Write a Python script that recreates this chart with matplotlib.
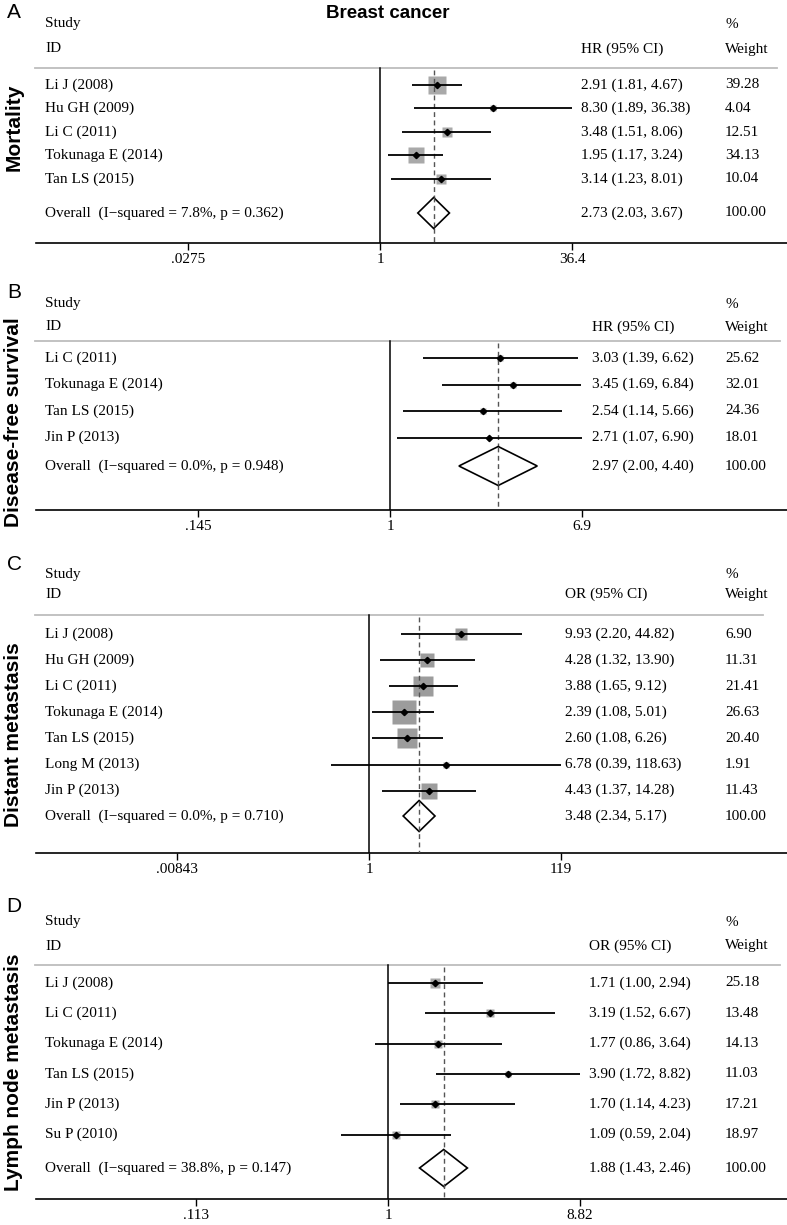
import numpy as np
import matplotlib
matplotlib.use("Agg")
import matplotlib.pyplot as plt

# ---- data -------------------------------------------------------------
studies_a = ["Li J (2008)", "Hu GH (2009)", "Li C (2011)", "Tokunaga E (2014)", "Tan LS (2015)"]
est_a = [2.91, 8.30, 3.48, 1.95, 3.14]
lo_a = [1.81, 1.89, 1.51, 1.17, 1.23]
hi_a = [4.67, 36.38, 8.06, 3.24, 8.01]
w_a = [39.28, 4.04, 12.51, 34.13, 10.04]
overall_a = [2.73, 2.03, 3.67]
het_a = "Overall  (I\u2212squared = 7.8%, p = 0.362)"
ticks_a = [0.0275, 1, 36.4]
ticklab_a = [".0275", "1", "36.4"]

studies_b = ["Li C (2011)", "Tokunaga E (2014)", "Tan LS (2015)", "Jin P (2013)"]
est_b = [3.03, 3.45, 2.54, 2.71]
lo_b = [1.39, 1.69, 1.14, 1.07]
hi_b = [6.62, 6.84, 5.66, 6.90]
w_b = [25.62, 32.01, 24.36, 18.01]
overall_b = [2.97, 2.00, 4.40]
het_b = "Overall  (I\u2212squared = 0.0%, p = 0.948)"
ticks_b = [0.145, 1, 6.9]
ticklab_b = [".145", "1", "6.9"]

studies_c = ["Li J (2008)", "Hu GH (2009)", "Li C (2011)", "Tokunaga E (2014)",
             "Tan LS (2015)", "Long M (2013)", "Jin P (2013)"]
est_c = [9.93, 4.28, 3.88, 2.39, 2.60, 6.78, 4.43]
lo_c = [2.20, 1.32, 1.65, 1.08, 1.08, 0.39, 1.37]
hi_c = [44.82, 13.90, 9.12, 5.01, 6.26, 118.63, 14.28]
w_c = [6.90, 11.31, 21.41, 26.63, 20.40, 1.91, 11.43]
overall_c = [3.48, 2.34, 5.17]
het_c = "Overall  (I\u2212squared = 0.0%, p = 0.710)"
ticks_c = [0.00843, 1, 119]
ticklab_c = [".00843", "1", "119"]

studies_d = ["Li J (2008)", "Li C (2011)", "Tokunaga E (2014)", "Tan LS (2015)",
             "Jin P (2013)", "Su P (2010)"]
est_d = [1.71, 3.19, 1.77, 3.90, 1.70, 1.09]
lo_d = [1.00, 1.52, 0.86, 1.72, 1.14, 0.59]
hi_d = [2.94, 6.67, 3.64, 8.82, 4.23, 2.04]
w_d = [25.18, 13.48, 14.13, 11.03, 17.21, 18.97]
overall_d = [1.88, 1.43, 2.46]
het_d = "Overall  (I\u2212squared = 38.8%, p = 0.147)"
ticks_d = [0.113, 1, 8.82]
ticklab_d = [".113", "1", "8.82"]

# ---- layout (pixel positions from top-left) --------------------------
W, H = 787, 1225
SERIF = "Liberation Serif"
SANS = "Liberation Sans"

panels = [
    dict(letter="A", name="Mortality", eff="HR", studies=studies_a, est=est_a, lo=lo_a, hi=hi_a,
         w=w_a, overall=overall_a, het=het_a, ticks=ticks_a, ticklab=ticklab_a,
         one=380, span=192, k=2.87, col_ci=581, col_w=725, line_end=777,
         letter_y=12, study_y=24, id_y=49, line_y=68, row0=85, step=23.5, ov_y=213,
         dh=31, axis_y=243, label_y=127, sq="#a9a9a9"),
    dict(letter="B", name="Disease-free survival", eff="HR", studies=studies_b, est=est_b, lo=lo_b,
         hi=hi_b, w=w_b, overall=overall_b, het=het_b, ticks=ticks_b, ticklab=ticklab_b,
         one=390, span=192, k=1.1, col_ci=592, col_w=725, line_end=780,
         letter_y=292, study_y=304, id_y=327, line_y=341, row0=358, step=26.5, ov_y=466,
         dh=39, axis_y=510, label_y=422, sq="#a9a9a9"),
    dict(letter="C", name="Distant metastasis", eff="OR", studies=studies_c, est=est_c, lo=lo_c,
         hi=hi_c, w=w_c, overall=overall_c, het=het_c, ticks=ticks_c, ticklab=ticklab_c,
         one=369, span=192, k=4.46, col_ci=565, col_w=725, line_end=763,
         letter_y=564, study_y=574, id_y=594, line_y=615, row0=634, step=26.1, ov_y=816,
         dh=31, axis_y=853, label_y=735, sq="#9c9c9c"),
    dict(letter="D", name="Lymph node metastasis", eff="OR", studies=studies_d, est=est_d, lo=lo_d,
         hi=hi_d, w=w_d, overall=overall_d, het=het_d, ticks=ticks_d, ticklab=ticklab_d,
         one=388, span=192, k=2.0, col_ci=589, col_w=725, line_end=780,
         letter_y=906, study_y=922, id_y=946, line_y=965, row0=983, step=30.3, ov_y=1168,
         dh=37, axis_y=1199, label_y=1072, sq="#a9a9a9"),
]

X0 = 36  # left end of axis line

fig = plt.figure(figsize=(W / 100, H / 100), dpi=100)
fig.patch.set_facecolor("white")

for p in panels:
    scale = p["span"] / np.log(p["ticks"][2])  # px per ln unit

    def hx(px, p=p, scale=scale):
        return np.exp((px - p["one"]) / scale)

    top = p["letter_y"] - 12
    ax = fig.add_axes([X0 / W, 1 - p["axis_y"] / H, 1 - X0 / W, (p["axis_y"] - top) / H])
    ax.set_facecolor("none")
    ax.set_xscale("log")
    ax.set_xlim(hx(X0), hx(W))
    ax.set_ylim(p["axis_y"], top)
    for s in ["top", "left", "right"]:
        ax.spines[s].set_visible(False)
    ax.spines["bottom"].set_linewidth(1.2)
    ax.set_yticks([])
    ax.set_xticks(p["ticks"])
    ax.set_xticklabels(p["ticklab"], fontfamily=SERIF, fontsize=11)
    ax.xaxis.set_minor_locator(matplotlib.ticker.NullLocator())
    ax.tick_params(axis="x", direction="out", length=5, width=1.0, pad=2)

    rows = [p["row0"] + i * p["step"] for i in range(len(p["studies"]))]
    ov_y = p["ov_y"]

    # header
    ax.text(hx(45), p["study_y"], "Study", family=SERIF, fontsize=11, va="center")
    ax.text(hx(45), p["id_y"], "ID", family=SERIF, fontsize=11, va="center")
    ax.text(hx(p["col_ci"]), p["id_y"], p["eff"] + " (95% CI)", family=SERIF, fontsize=11,
            va="center")
    ax.text(hx(p["col_w"]), p["study_y"], "%", family=SERIF, fontsize=11, va="center")
    ax.text(hx(p["col_w"]), p["id_y"], "Weight", family=SERIF, fontsize=11, va="center")
    ax.plot([hx(35), hx(p["line_end"])], [p["line_y"], p["line_y"]], color="#bdbdbd", lw=1.3,
            clip_on=False)

    # null line and overall dashed line
    ax.plot([1, 1], [p["line_y"], p["axis_y"]], color="black", lw=1.1)
    ov, ov_lo, ov_hi = p["overall"]
    ax.plot([ov, ov], [p["line_y"] + 2, p["axis_y"]], color="#555555", lw=1.0,
            ls=(0, (3.5, 2.5)), zorder=3)

    # studies
    for name, e, lo, hi, w, y in zip(p["studies"], p["est"], p["lo"], p["hi"], p["w"], rows):
        side = p["k"] * np.sqrt(w)
        ax.plot([e], [y], marker="s", ms=side * 0.72, color=p["sq"], mec="none", zorder=2)
        ax.plot([lo, hi], [y, y], color="black", lw=1.3, zorder=4, solid_capstyle="butt")
        ax.plot([e], [y], marker="D", ms=3.2, color="black", zorder=5)
        ax.text(hx(45), y, name, family=SERIF, fontsize=11, va="center")
        ax.text(hx(p["col_ci"]), y, f"{e:.2f} ({lo:.2f}, {hi:.2f})", family=SERIF, fontsize=11,
                va="center")
        ax.text(hx(p["col_w"]), y, f"{w:.2f}", family=SERIF, fontsize=11, va="center")

    # overall diamond
    h = p["dh"] / 2
    ax.fill([ov_lo, ov, ov_hi, ov, ov_lo], [ov_y, ov_y - h, ov_y, ov_y + h, ov_y],
            facecolor="white", edgecolor="black", lw=1.2, zorder=4)
    ax.plot([ov, ov], [ov_y - h, ov_y + h], color="#555555", lw=1.0, ls=(0, (3.5, 2.5)),
            zorder=5)
    ax.text(hx(45), ov_y, p["het"], family=SERIF, fontsize=11, va="center")
    ax.text(hx(p["col_ci"]), ov_y, f"{ov:.2f} ({ov_lo:.2f}, {ov_hi:.2f})", family=SERIF,
            fontsize=11, va="center")
    ax.text(hx(p["col_w"]), ov_y, "100.00", family=SERIF, fontsize=11, va="center")

    # panel letter and side label
    fig.text(14 / W, 1 - p["letter_y"] / H, p["letter"], family=SANS, fontsize=15,
             ha="center", va="center")
    fig.text(14 / W, 1 - p["label_y"] / H, p["name"], family=SANS, fontsize=15,
             fontweight="bold", rotation=90, ha="center", va="center")

fig.text(388 / W, 1 - 13 / H, "Breast cancer", family=SANS, fontsize=13.5, fontweight="bold",
         ha="center", va="center")

fig.savefig("out.png", dpi=100)
